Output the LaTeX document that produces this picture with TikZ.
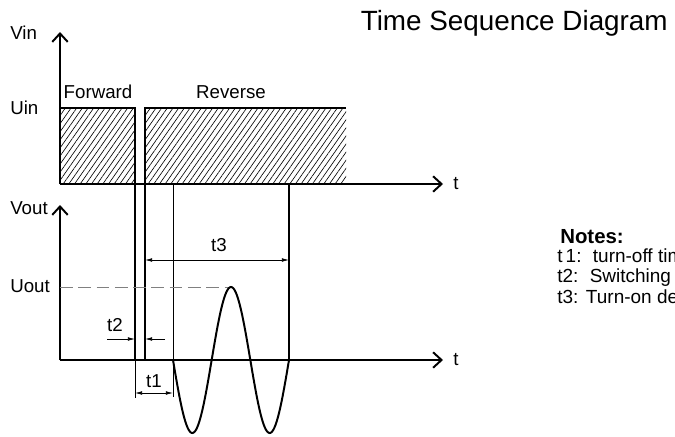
\documentclass[tikz,border=0pt]{standalone}
\usepackage{fontspec}
\setmainfont{Liberation Sans}
\usetikzlibrary{arrows.meta,patterns.meta}
\tikzset{
  axis/.style={line width=1.4pt,-{Straight Barb[length=6pt,width=11pt,line width=1.4pt]}},
  signal/.style={line width=1.4pt},
  guide/.style={line width=0.5pt},
  dimtip/.style={-{Latex[length=5pt,width=2.6pt]}},
  dim/.style={guide,{Latex[length=5pt,width=2.6pt]}-{Latex[length=5pt,width=2.6pt]}},
  hatch/.style={pattern={Lines[angle=55,distance=3.3pt,line width=0.45pt]}},
  axislabel/.style={font=\fontsize{13.3}{15}\selectfont,inner sep=0pt},
  note/.style={font=\fontsize{13.5}{16}\selectfont,inner sep=0pt,anchor=base west}
}
\begin{document}
\begin{tikzpicture}[x=0.025cm,y=-0.025cm]
  \useasboundingbox (0,0) rectangle (675,436);
  \clip (0,0) rectangle (675,436);
  \coordinate (inorigin) at (60,184);
  \coordinate (intop) at (60,32);
  \coordinate (inend) at (443,184);
  \coordinate (outorigin) at (60,360);
  \coordinate (outtop) at (60,205);
  \coordinate (outend) at (443,360);
  \coordinate (fwdcorner) at (135,108);
  \coordinate (fwdfoot) at (135,360);
  \coordinate (revcorner) at (145,108);
  \coordinate (revfoot) at (145,360);
  \coordinate (revend) at (346,108);
  \coordinate (uintop) at (60,108);
  \coordinate (onsettop) at (173,184);
  \coordinate (onsetfoot) at (173,397);
  \coordinate (offfoot) at (135,398);
  \coordinate (endtop) at (289,184);
  \coordinate (endfoot) at (289,360);
  \coordinate (peak) at (232,287);
  \coordinate (uoutlevel) at (60,287);

  \fill[hatch] (uintop) rectangle (fwdcorner |- inorigin);
  \fill[hatch] (revcorner) rectangle (revend |- inorigin);
  \draw[signal] (uintop) -- (fwdcorner) -- (fwdfoot);
  \draw[signal] (revfoot) -- (revcorner) -- (revend);

  \draw[axis] (inorigin) -- (intop);
  \draw[axis] (inorigin) -- (inend);
  \draw[axis] (outorigin) -- (outtop);
  \draw[axis] (outorigin) -- (outend);

  \draw[guide] (onsettop) -- (onsetfoot);
  \draw[guide] (fwdfoot) -- (offfoot);
  \draw[line width=1pt] (endtop) -- (endfoot);
  \draw[gray,line width=0.7pt,dash pattern=on 9pt off 4pt] (uoutlevel) -- (peak);

  \draw[signal] plot[domain=0:540,samples=121,smooth]
    ({173+\x/540*116},{360+73*sin(\x)});

  \coordinate (t3left) at (145,260);
  \coordinate (t3right) at (289,260);
  \draw[dim] (t3left) -- (t3right);
  \coordinate (t2from) at (107,339);
  \coordinate (t2to) at (135,339);
  \coordinate (t2back) at (165,339);
  \coordinate (t2end) at (145,339);
  \draw[guide,dimtip] (t2from) -- (t2to);
  \draw[guide,dimtip] (t2back) -- (t2end);
  \coordinate (t1left) at (135,393);
  \coordinate (t1right) at (173,393);
  \draw[dim] (t1left) -- (t1right);

  \node[axislabel] (t3label) at (219,245) {t3};
  \node[axislabel] (t2label) at (115,325) {t2};
  \node[axislabel] (t1label) at (154,381) {t1};

  \node[axislabel,anchor=west] (vin) at (10,33) {Vin};
  \node[axislabel,anchor=west] (uin) at (10,108) {Uin};
  \node[axislabel,anchor=west] (vout) at (10,208) {Vout};
  \node[axislabel,anchor=west] (uout) at (10,286) {Uout};
  \node[axislabel] (tin) at (456,184) {t};
  \node[axislabel] (tout) at (456,360) {t};
  \node[axislabel] (forward) at (98,92) {Forward};
  \node[axislabel] (reverse) at (231,92) {Reverse};

  \node[font=\fontsize{19.8}{23}\selectfont,inner sep=0pt,anchor=east] (title) at (668,23) {Time Sequence Diagram};

  \node[note,font=\fontsize{14.5}{17}\selectfont\bfseries] (notes) at (560,243) {Notes:};
  \node[note] (noteone) at (557,262) {t\,1:\hspace{0.6em}turn-off time};
  \node[note] (notetwo) at (557,282) {t2:\hspace{0.6em}Switching time};
  \node[note] (notethree) at (557,303) {t3:\hspace{0.4em}Turn-on delay time};
\end{tikzpicture}
\end{document}
